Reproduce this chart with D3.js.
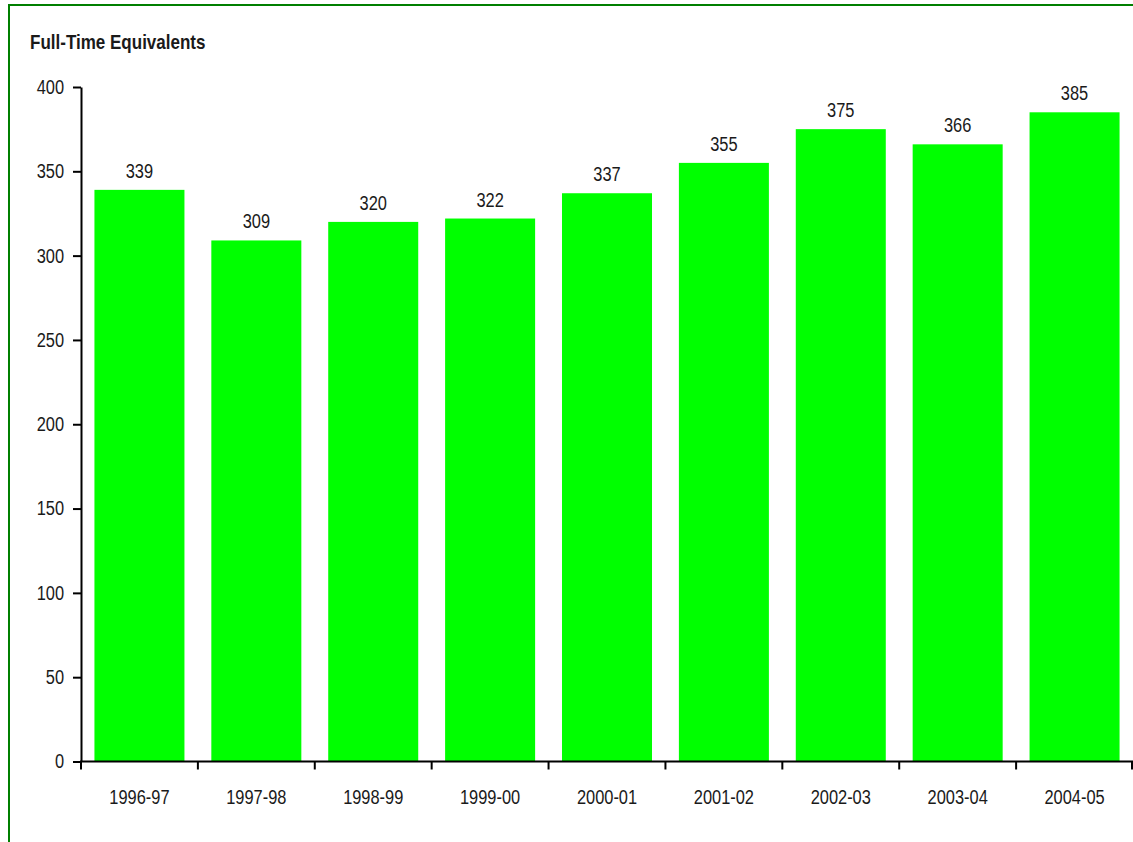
<!DOCTYPE html>
<html>
<head>
<meta charset="utf-8">
<script src="https://cdn.jsdelivr.net/npm/d3@7"></script>
<style>
  html, body { margin: 0; padding: 0; background: #fff; }
  svg { display: block; }
  text { font-family: "Liberation Sans Narrow", "Arial Narrow", "Liberation Sans", Arial, sans-serif; fill: #1a1a1a; }
</style>
</head>
<body>
<svg id="chart" width="1133" height="842"></svg>
<script>
// Full-time equivalent staff by fiscal year
const years = ["1996-97", "1997-98", "1998-99", "1999-00", "2000-01", "2001-02", "2002-03", "2003-04", "2004-05"];
const fte = [339, 309, 320, 322, 337, 355, 375, 366, 385];
const yTicks = [0, 50, 100, 150, 200, 250, 300, 350, 400];
const chartTitle = "Full-Time Equivalents";

const svg = d3.select("#chart");
const W = 1133, H = 842;
const plot = { left: 81, right: 1133, top: 87, bottom: 761.5 };

// Condense a text element horizontally (narrow face look)
function condense(sel, k) {
  sel.each(function () {
    const len = this.getComputedTextLength();
    d3.select(this).attr("textLength", len * k).attr("lengthAdjust", "spacingAndGlyphs");
  });
}

// Frame: green rule along the top and left edges
svg.append("line").attr("x1", 8).attr("x2", W).attr("y1", 5).attr("y2", 5)
  .attr("stroke", "#007f00").attr("stroke-width", 2);
svg.append("line").attr("x1", 9).attr("x2", 9).attr("y1", 4).attr("y2", H)
  .attr("stroke", "#007f00").attr("stroke-width", 2);

svg.append("text").attr("x", 30).attr("y", 49)
  .style("font-size", "21px").style("font-weight", "bold")
  .text(chartTitle)
  .call(condense, 0.81);

const x = d3.scaleBand().domain(years).range([plot.left, plot.right])
  .paddingInner(0.23).paddingOuter(0.115);
const y = d3.scaleLinear().domain([0, 400]).range([plot.bottom, plot.top]);

// Bars
svg.append("g").selectAll("rect").data(years).join("rect")
  .attr("x", d => x(d))
  .attr("width", x.bandwidth())
  .attr("y", (d, i) => y(fte[i]))
  .attr("height", (d, i) => y(0) - y(fte[i]))
  .attr("fill", "#00ff00");

// Value labels
svg.append("g").selectAll("text").data(years).join("text")
  .attr("x", d => x(d) + x.bandwidth() / 2)
  .attr("y", (d, i) => y(fte[i]) - 12)
  .attr("text-anchor", "middle")
  .style("font-size", "20px")
  .text((d, i) => fte[i])
  .call(condense, 0.82);

// Y axis
const yAxis = svg.append("g").attr("transform", `translate(${plot.left},0)`)
  .call(d3.axisLeft(y).tickValues(yTicks).tickSize(8).tickPadding(9).tickSizeOuter(0));
yAxis.select(".domain").attr("stroke", "#000").attr("stroke-width", 2);
yAxis.selectAll(".tick line").attr("stroke", "#000").attr("stroke-width", 2);
yAxis.selectAll(".tick text").style("font-size", "20px").attr("fill", "#1a1a1a")
  .attr("font-family", null)
  .call(condense, 0.82);

// X axis with ticks at category boundaries
const xAxisG = svg.append("g").attr("transform", `translate(0,${plot.bottom})`);
xAxisG.append("line").attr("x1", plot.left - 1).attr("x2", plot.right)
  .attr("y1", 0).attr("y2", 0).attr("stroke", "#000").attr("stroke-width", 2);
const boundaries = d3.range(years.length + 1).map(i => plot.left + i * (plot.right - plot.left) / years.length);
xAxisG.selectAll("line.b").data(boundaries).join("line").attr("class", "b")
  .attr("x1", d => Math.min(d, plot.right - 1)).attr("x2", d => Math.min(d, plot.right - 1))
  .attr("y1", 0).attr("y2", 8)
  .attr("stroke", "#000").attr("stroke-width", 2);
xAxisG.selectAll("text").data(years).join("text")
  .attr("x", d => x(d) + x.bandwidth() / 2)
  .attr("y", 42)
  .attr("text-anchor", "middle")
  .style("font-size", "20px")
  .text(d => d)
  .call(condense, 0.82);
</script>
</body>
</html>
